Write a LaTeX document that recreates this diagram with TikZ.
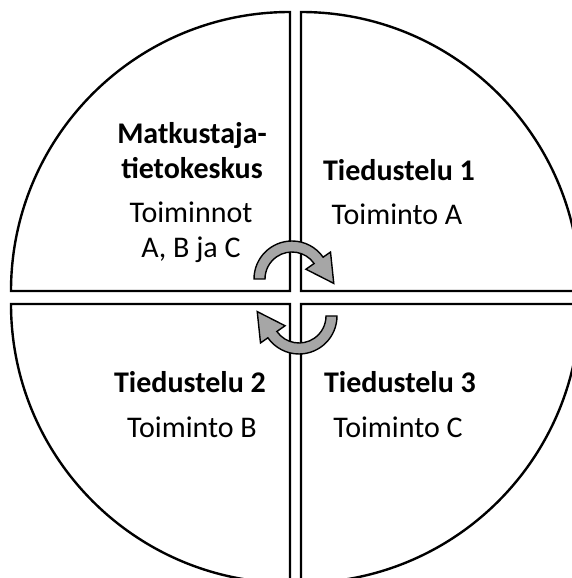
\documentclass[tikz,border=0pt]{standalone}
\usepackage{fontspec}
\setmainfont{Carlito}
\usepackage{tikz}
\usetikzlibrary{positioning}
\colorlet{ARRgray}{gray!70}

\begin{document}
\begin{tikzpicture}[x=1pt, y=1pt,
    quarter/.style={draw=black, line width=2.4pt, line join=miter},
    head/.style={font=\fontsize{30}{35}\selectfont\bfseries, align=center},
    body/.style={font=\fontsize{30}{35}\selectfont, align=center},
    roundarrow/.pic={
      \filldraw[fill=ARRgray, draw=black, line width=1.4pt]
        (180:38) arc[start angle=180, end angle=35, radius=38]
        -- (35:47) -- (-6:42) -- (35:17) -- (35:27)
        arc[start angle=35, end angle=180, radius=27] -- cycle;
    }]
  \useasboundingbox (0,0) rectangle (572,578);
  \clip (0,0) rectangle (572,578);
  % four quarters of the circle
  \draw[quarter] (290,287) -- (290,566) arc[start angle=90, end angle=180, radius=279] -- cycle;
  \draw[quarter] (301,287) -- (580,287) arc[start angle=0, end angle=90, radius=279] -- cycle;
  \draw[quarter] (290,274) -- (11,274) arc[start angle=180, end angle=270, radius=279] -- cycle;
  \draw[quarter] (301,274) -- (301,-5) arc[start angle=270, end angle=360, radius=279] -- cycle;
  % texts
  \node[head] (mtk) at (192,427) {Matkustaja-\\tietokeskus};
  \node[body] (mtkt) at (191,346) {Toiminnot\\A, B ja C};
  \node[head] (t1) at (399,408) {Tiedustelu 1};
  \node[body] (t1t) at (397,364) {Toiminto A};
  \node[head] (t2) at (190,196) {Tiedustelu 2};
  \node[body] (t2t) at (192,151) {Toiminto B};
  \node[head] (t3) at (400,196) {Tiedustelu 3};
  \node[body] (t3t) at (398,151) {Toiminto C};
  % turning arrows
  \pic at (292,299) {roundarrow};
  \pic[rotate=180] at (299,262) {roundarrow};
\end{tikzpicture}
\end{document}
